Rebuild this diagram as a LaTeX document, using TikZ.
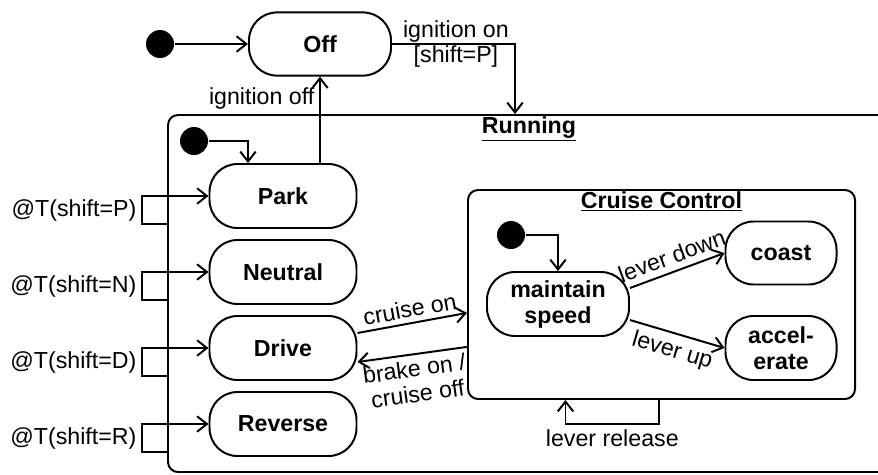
\documentclass[tikz,border=0pt]{standalone}
\usepackage{fontspec}
\setmainfont{Liberation Sans}
\usetikzlibrary{arrows.meta,calc}
\begin{document}
\begin{tikzpicture}[
  font=\fontsize{16.5}{18}\selectfont,
  line width=1.4pt,
  st/.style={draw,rounded corners=0.7cm,minimum height=1.6cm,align=center,
    font=\fontsize{16.5}{18.5}\selectfont\bfseries},
  ini/.style={circle,fill=black,minimum size=0.7cm,inner sep=0pt},
  box/.style={draw,rounded corners=0.25cm},
  ttl/.style={anchor=north,inner sep=1pt,font=\fontsize{16.5}{18}\selectfont\bfseries},
  tr/.style={-{Straight Barb[length=7pt,width=11pt]}},
]
  \useasboundingbox (0,0) rectangle (21.95,-11.85);
  \clip (0,0) rectangle (21.95,-11.85);
  \node[box,minimum width=18.05cm,minimum height=8.925cm,
    label={[ttl]north:\underline{Running}}] (v0) at (13.225,-7.3375) {};
  \node[st,minimum width=3.55cm,minimum height=1.58cm] (v1) at (8.0,-1.1) {Off};
  \node[ini] (v2) at (4.0,-1.1) {};
  \draw[tr] (v2) -- (v1);
  \node[ini] (v3) at (4.85,-3.525) {};
  \foreach \n/\t/\y in {4/Park/-4.9,5/Neutral/-6.8,6/Drive/-8.7,7/Reverse/-10.6}
    \node[st,minimum width=3.675cm] (v\n) at (7.075,\y) {\t};
  \draw[tr] (v1.east) -| ([xshift=-0.35cm]v0.north)
    node[pos=0.26,align=center] {ignition on\\{}[shift=P]};
  \draw[tr] (v3) -| ([xshift=-0.875cm]v4.north);
  \draw[tr] (v4.north -| v1.south) -- (v1.south) node[pos=0.75,left] {ignition off};
  \foreach \n/\s in {4/P,5/N,6/D,7/R}
    \draw[tr] ($(v0.west |- v\n)+(0,-0.7)$) -- ++(-0.625,0) |- (v\n.west)
      node[pos=0.25,left] {@T(shift=\s)};
  \node[box,minimum width=9.675cm,minimum height=5.225cm,
    label={[ttl]north:\underline{Cruise Control}}] (v8) at (16.5375,-7.3625) {};
  \node[ini] (v9) at (12.775,-5.875) {};
  \node[st,minimum width=3.55cm] (v10) at (13.95,-7.6) {maintain\\speed};
  \node[st,minimum width=2.775cm,minimum height=1.575cm] (v11) at (19.525,-6.325) {coast};
  \node[st,minimum width=2.775cm] (v12) at (19.525,-8.7) {accel-\\erate};
  \draw[tr] ([yshift=0.375cm]v6.east) -- ([yshift=-0.46cm]v8.west)
    node[midway,above,sloped] {cruise on};
  \draw[tr] ([yshift=-1.31cm]v8.west) -- ([yshift=-0.35cm]v6.east)
    node[midway,below,sloped,align=center] {brake on /\\cruise off};
  \draw[tr] (v9) -| (v10.north);
  \draw[tr] ([yshift=0.4cm]v10.east) -- (v11.west)
    node[midway,above=1pt,sloped] {lever down};
  \draw[tr] ([yshift=-0.4cm]v10.east) -- (v12.west)
    node[midway,below=1pt,sloped] {lever up};
  \draw[tr] ([xshift=-0.06cm]v8.south) -- ++(0,-0.6) -| ([xshift=-2.4cm]v8.south)
    node[pos=0.25,below] {lever release};
\end{tikzpicture}
\end{document}
